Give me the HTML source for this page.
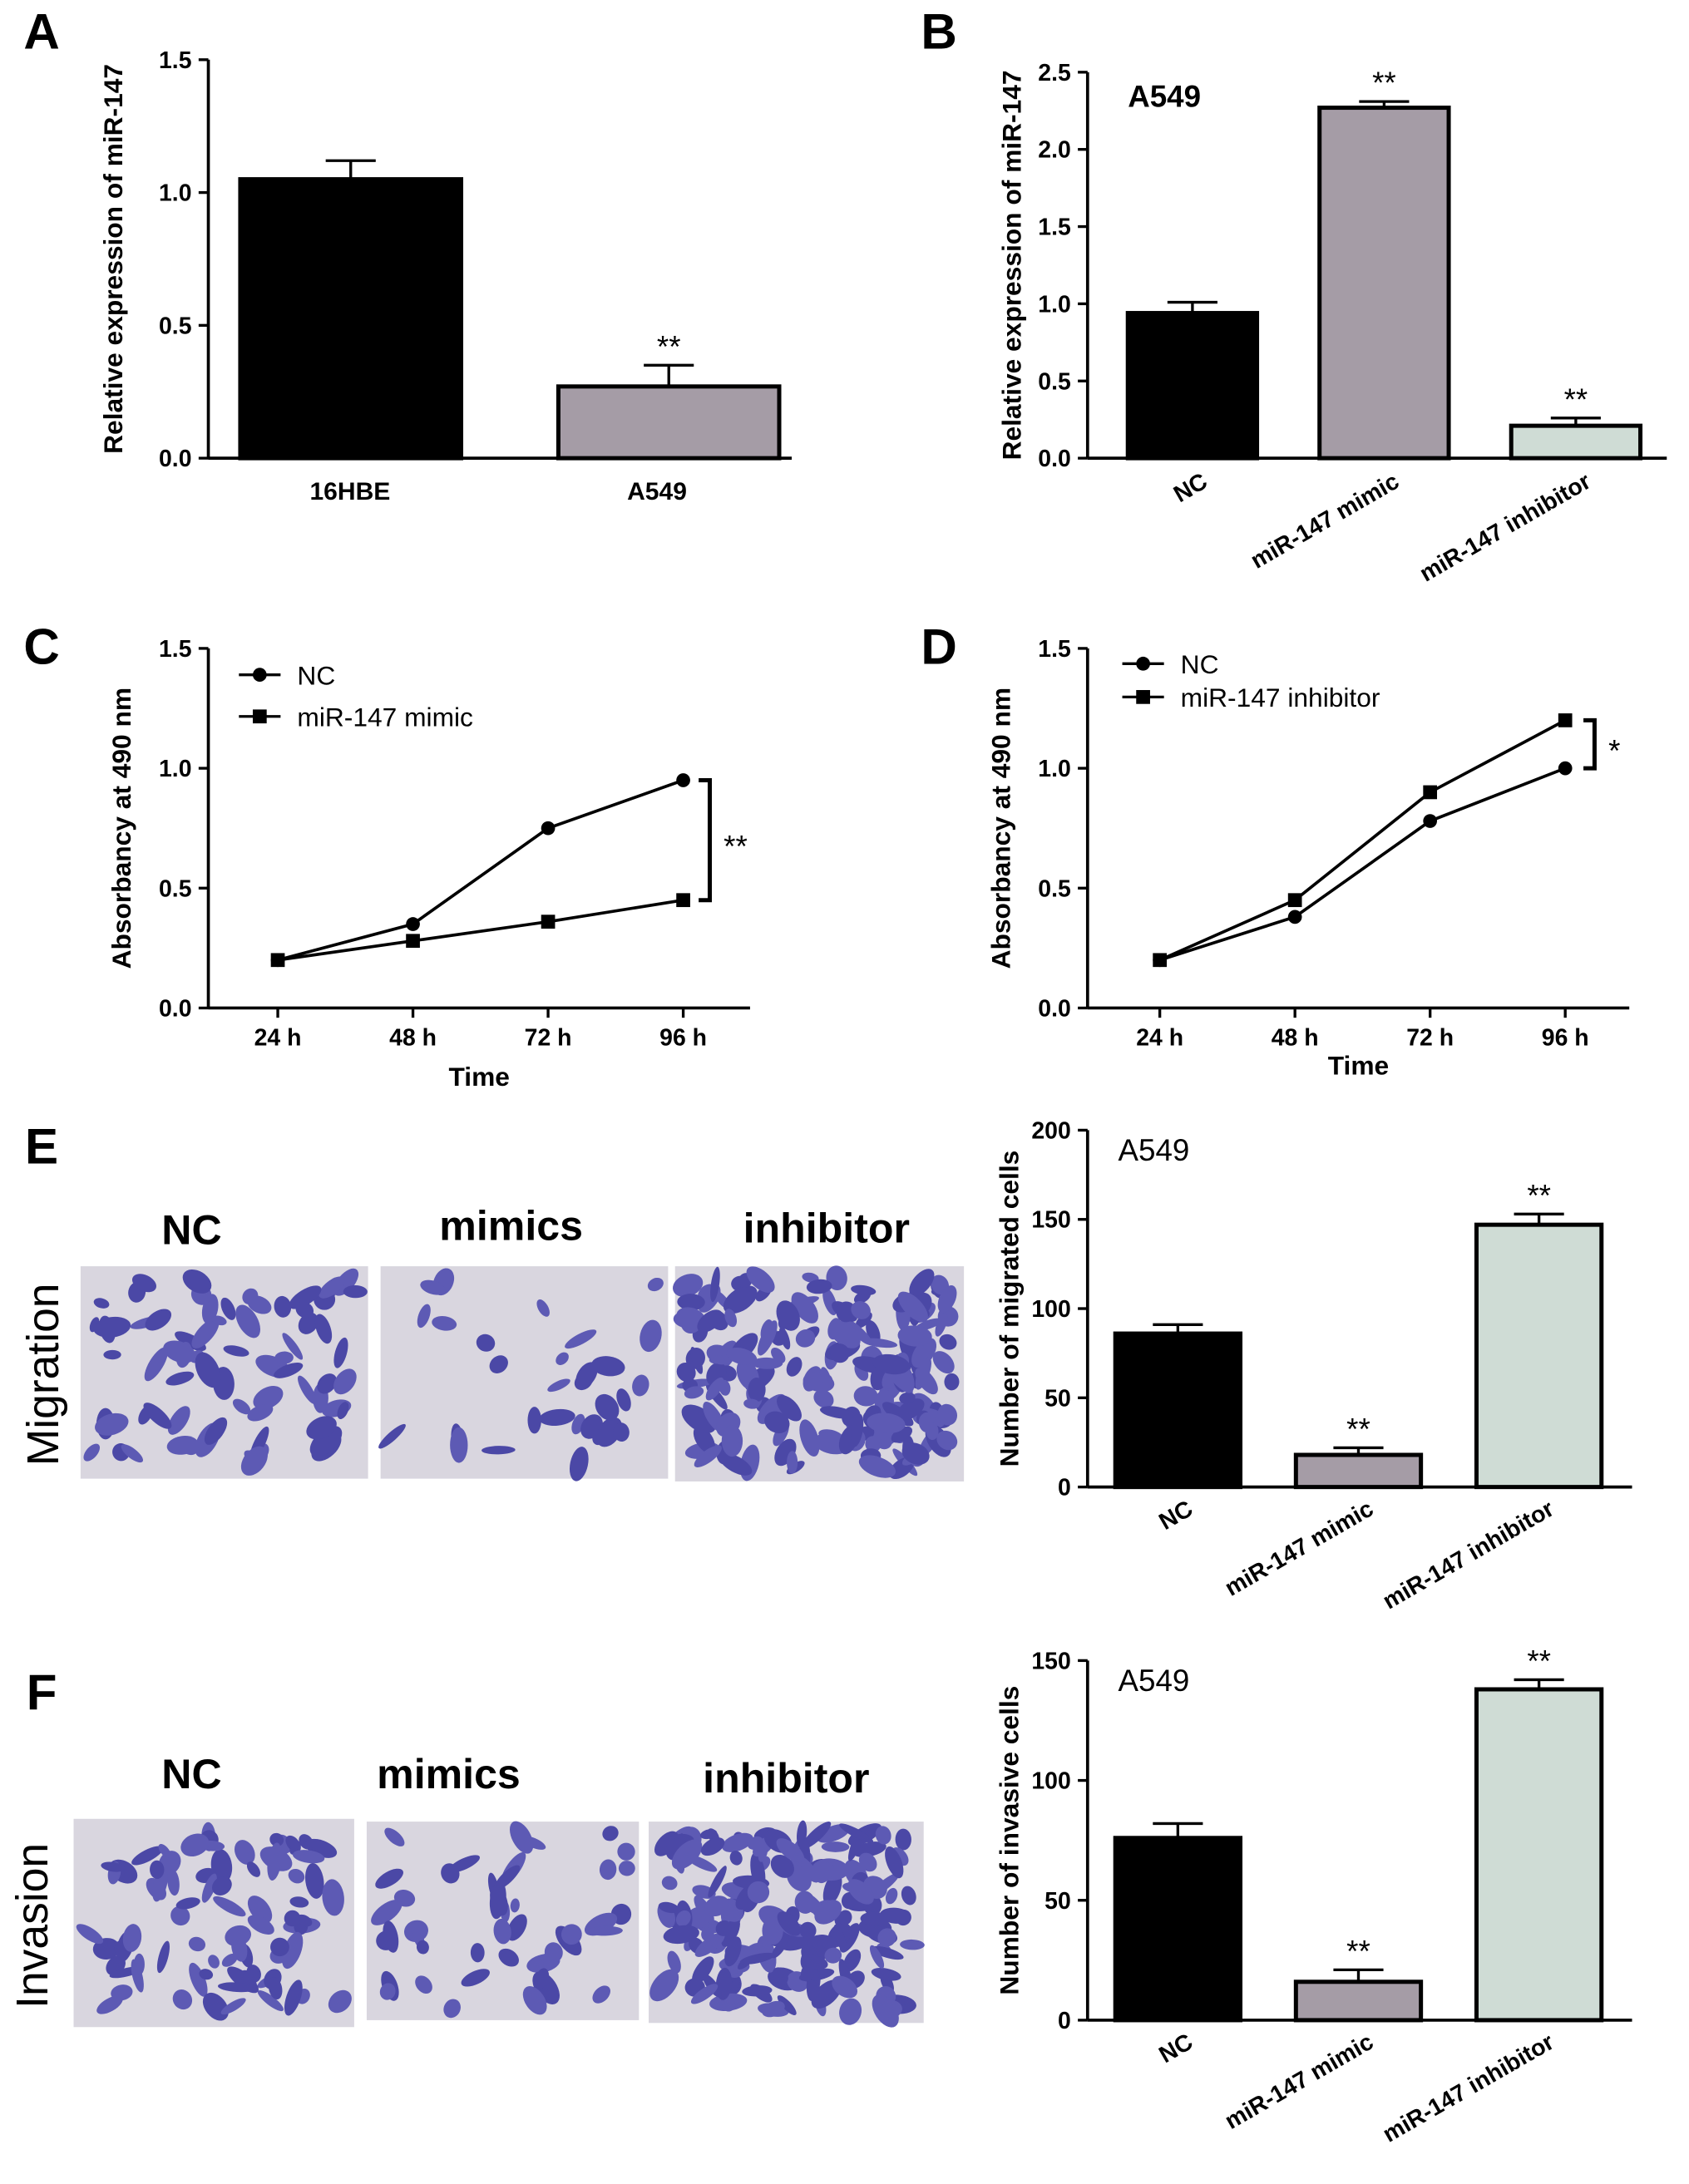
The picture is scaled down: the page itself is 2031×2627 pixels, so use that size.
<!DOCTYPE html>
<html><head><meta charset="utf-8"><style>html,body{margin:0;padding:0;background:#fff}svg{display:block}text{font-family:"Liberation Sans",sans-serif}</style></head>
<body>
<svg id="fig" width="2031" height="2627" viewBox="0 0 1216 1573" preserveAspectRatio="none" xmlns="http://www.w3.org/2000/svg"></svg>
<script>
// ---- data ----
const aCats=["16HBE","A549"];const aVals=[1.05,0.27];const aErr=[1.12,0.35];const aStars=["","**"];
const bCats=["NC","miR-147 mimic","miR-147 inhibitor"];const bVals=[0.94,2.27,0.21];const bErr=[1.01,2.31,0.26];const bStars=["","**","**"];
const cTimes=["24 h","48 h","72 h","96 h"];const cNC=[0.2,0.35,0.75,0.95];const cMimic=[0.2,0.28,0.36,0.45];
const dNC=[0.2,0.38,0.78,1.0];const dInh=[0.2,0.45,0.9,1.2];
const eVals=[86,18,147];const eErr=[91,22,153];const eStars=["","**","**"];
const fVals=[76,16,138];const fErr=[82,21,142];const fStars=["","**","**"];
const ticks15=[0,0.5,1.0,1.5];const ticks25=[0,0.5,1.0,1.5,2.0,2.5];const ticks200=[0,50,100,150,200];const ticks150=[0,50,100,150];
const colors=["#000","#a59ca6","#cfdcd5"];

const svg=document.getElementById('fig');const NS="http://www.w3.org/2000/svg";
function el(tag,attrs,txt,parent){const e=document.createElementNS(NS,tag);for(const k in attrs)e.setAttribute(k,attrs[k]);if(txt!==undefined)e.textContent=txt;(parent||svg).appendChild(e);return e;}
function group(name){const g=el('g',{});return g;}
function yAxis(g,x,y0,y1,max,ticks,fmt,title,tx){
  const sc=v=>y0-(v/max)*(y0-y1);
  const l=el('line',{x1:x,y1:y0,x2:x,y2:y1,stroke:'#000','stroke-width':2.2},undefined,g);
  
  ticks.forEach(t=>{el('line',{x1:x-7,y1:sc(t),x2:x,y2:sc(t),stroke:'#000','stroke-width':2},undefined,g);
    const tt=el('text',{x:x-12,y:sc(t)+6,'text-anchor':'end','font-size':17,'font-weight':'bold'},fmt(t),g);
    });
  const yt=el('text',{x:0,y:0,transform:`translate(${tx},${(y0+y1)/2}) rotate(-90)`,'text-anchor':'middle','font-size':19,'font-weight':'bold'},title,g);
  
  return sc;}
function bars(g,sc,x0,w,gap,vals,errs,stars,y0){
  vals.forEach((v,i)=>{const x=x0+i*(w+gap);
    el('line',{x1:x+w/2,y1:sc(errs[i]),x2:x+w/2,y2:sc(v),stroke:'#000','stroke-width':2},undefined,g);
    el('line',{x1:x+w/2-18,y1:sc(errs[i]),x2:x+w/2+18,y2:sc(errs[i]),stroke:'#000','stroke-width':2},undefined,g);
    const r=el('rect',{x:x,y:sc(v),width:w,height:y0-sc(v),fill:colors[i],stroke:'#000','stroke-width':3},undefined,g);
    
    if(stars[i]){const s=el('text',{x:x+w/2,y:sc(errs[i])-6,'text-anchor':'middle','font-size':22},stars[i],g);
      }
  });}
function rotLabels(g,x0,w,gap,cats,y){
  cats.forEach((c,i)=>{const cx=x0+i*(w+gap)+w/2+12;
    const t=el('text',{x:0,y:0,transform:`translate(${cx},${y}) rotate(-30)`,'text-anchor':'end','font-size':17,'font-weight':'bold'},c,g);
    });}
function letter(t,x,y){const e=el('text',{x:x,y:y,'text-anchor':'middle','font-size':36,'font-weight':'bold'},t);}
const f1=t=>t.toFixed(1);const f0=t=>String(t);

// Panel A
letter('A',30,35);
{const g=group('panel-a-chart');const sc=yAxis(g,150,330,43,1.5,ticks15,f1,'Relative expression of miR-147',88);
 el('line',{x1:150,y1:330,x2:570,y2:330,stroke:'#000','stroke-width':2.2},undefined,g);
 bars(g,sc,173,159,70,aVals,aErr,aStars,330);
 aCats.forEach((c,i)=>{const t=el('text',{x:[252,473][i],y:360,'text-anchor':'middle','font-size':18,'font-weight':'bold'},c,g);});}
// Panel B
letter('B',676,35);
{const g=group('panel-b-chart');const sc=yAxis(g,783,330,52,2.5,ticks25,f1,'Relative expression of miR-147',735);
 el('line',{x1:783,y1:330,x2:1200,y2:330,stroke:'#000','stroke-width':2.2},undefined,g);
 bars(g,sc,812,93,45,bVals,bErr,bStars,330);rotLabels(g,812,93,45,bCats,350);
 el('text',{x:812,y:77,'font-size':22,'font-weight':'bold'},'A549',g);}
// line charts
function lineChart(name,x0,ax,ys,series,markers,legend,xlab,xlabY,br){
  const g=group(name);const sc=yAxis(g,ax,726,467,1.5,ticks15,f1,'Absorbancy at 490 nm',ax-56);
  el('line',{x1:ax,y1:726,x2:ax+390,y2:726,stroke:'#000','stroke-width':2.2},undefined,g);
  const xs=i=>x0+i*97.3;
  cTimes.forEach((t,i)=>{el('line',{x1:xs(i),y1:726,x2:xs(i),y2:733,stroke:'#000','stroke-width':2},undefined,g);
    const tt=el('text',{x:xs(i),y:753,'text-anchor':'middle','font-size':17,'font-weight':'bold'},t,g);});
  const xt=el('text',{x:ax+195,y:xlabY,'text-anchor':'middle','font-size':19,'font-weight':'bold'},xlab,g);
  series.forEach((s,k)=>{const p=el('polyline',{points:s.map((v,i)=>xs(i)+','+sc(v)).join(' '),fill:'none',stroke:'#000','stroke-width':2.2},undefined,g);
    
    s.forEach((v,i)=>{if(markers[k]==='c')el('circle',{cx:xs(i),cy:sc(v),r:5},undefined,g);else el('rect',{x:xs(i)-5,y:sc(v)-5,width:10,height:10},undefined,g);});
    const ly=legend.ly+k*legend.dy;el('line',{x1:legend.lx,y1:ly,x2:legend.lx+30,y2:ly,stroke:'#000','stroke-width':2},undefined,g);
    if(markers[k]==='c')el('circle',{cx:legend.lx+15,cy:ly,r:5},undefined,g);else el('rect',{x:legend.lx+10,y:ly-5,width:10,height:10},undefined,g);
    const lt=el('text',{x:legend.lx+42,y:ly+7,'font-size':19},legend[k],g);});
  const top=sc(series[br.hi][3]),bot=sc(series[br.lo][3]);
  el('polyline',{points:`${br.x},${top} ${br.x+8},${top} ${br.x+8},${bot} ${br.x},${bot}`,fill:'none',stroke:'#000','stroke-width':3},undefined,g);
  el('text',{x:br.x+18,y:(top+bot)/2+12,'font-size':22},br.s,g);}
letter('C',30,478);
{const lg=["NC","miR-147 mimic"];lg.lx=172;lg.ly=486;lg.dy=30;lineChart('panel-c-chart',200,150,0,[cNC,cMimic],['c','s'],lg,'Time',782,{x:503,hi:0,lo:1,s:'**'});}
letter('D',676,478);
{const lg=["NC","miR-147 inhibitor"];lg.lx=808;lg.ly=478;lg.dy=24;lineChart('panel-d-chart',835,783,0,[dNC,dInh],['c','s'],lg,'Time',774,{x:1140,hi:1,lo:0,s:'*'});}
// bar charts E, F
letter('E',30,838);
{const g=group('panel-e-chart');const sc=yAxis(g,783,1071,814,200,ticks200,f0,'Number of migrated cells',733);
 el('line',{x1:783,y1:1071,x2:1175,y2:1071,stroke:'#000','stroke-width':2.2},undefined,g);
 bars(g,sc,803,90,40,eVals,eErr,eStars,1071);rotLabels(g,803,90,40,bCats,1090);
 el('text',{x:805,y:836,'font-size':22},'A549',g);}
letter('F',30,1231);
{const g=group('panel-f-chart');const sc=yAxis(g,783,1455,1196,150,ticks150,f0,'Number of invasive cells',733);
 el('line',{x1:783,y1:1455,x2:1175,y2:1455,stroke:'#000','stroke-width':2.2},undefined,g);
 bars(g,sc,803,90,40,fVals,fErr,fStars,1455);rotLabels(g,803,90,40,bCats,1474);
 el('text',{x:805,y:1218,'font-size':22},'A549',g);}
// micrograph panels (decorative)
let seed=7;function rnd(){seed=(seed*16807)%2147483647;return seed/2147483647;}
function photo(name,x,y,w,h,n){const g=group(name);
  el('rect',{x:x,y:y,width:w,height:h,fill:'#d9d6df'},undefined,g);
  for(let i=0;i<n;i++){const cx=x+8+rnd()*(w-16),cy=y+8+rnd()*(h-16);
    el('ellipse',{cx:cx,cy:cy,rx:5+rnd()*9,ry:3+rnd()*5,transform:`rotate(${rnd()*180} ${cx} ${cy})`,fill:rnd()<0.5?'#4b48a6':'#5d5ab4'},undefined,g);}}
photo('migration-nc-image',58,912,207,153,70);photo('migration-mimics-image',274,912,207,153,30);photo('migration-inhibitor-image',486,912,208,155,190);
photo('invasion-nc-image',53,1310,202,150,80);photo('invasion-mimics-image',264,1312,196,143,45);photo('invasion-inhibitor-image',467,1312,198,145,170);
function lab(t,x,y,n){const e=el('text',{x:x,y:y,'text-anchor':'middle','font-size':30,'font-weight':'bold'},t);}
lab('NC',138,896,'migration-nc-label');lab('mimics',368,893,'migration-mimics-label');lab('inhibitor',595,895,'migration-inhibitor-label');
lab('NC',138,1288,'invasion-nc-label');lab('mimics',323,1288,'invasion-mimics-label');lab('inhibitor',566,1291,'invasion-inhibitor-label');
{const e=el('text',{x:0,y:0,transform:'translate(42,990) rotate(-90)','text-anchor':'middle','font-size':32},'Migration');}
{const e=el('text',{x:0,y:0,transform:'translate(34,1387) rotate(-90)','text-anchor':'middle','font-size':32},'Invasion');}
</script>
</body></html>
